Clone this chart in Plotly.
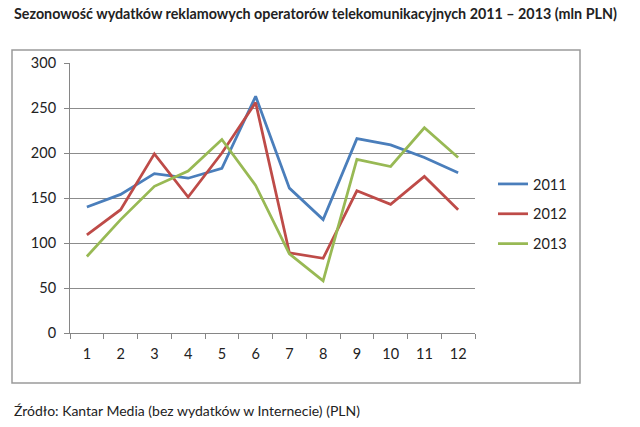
import plotly.graph_objects as go

months = ["1", "2", "3", "4", "5", "6", "7", "8", "9", "10", "11", "12"]
s2011 = [140, 154, 177, 172, 183, 263, 161, 126, 216, 209, 195, 178]
s2012 = [109, 137, 199, 151, 200, 256, 89, 83, 158, 143, 174, 137]
s2013 = [85, 126, 163, 180, 215, 164, 88, 58, 193, 185, 228, 195]
series_names = ["2011", "2012", "2013"]
colors = ["#4a7ebb", "#be4b48", "#98b954"]

FONT = "Lato"
fig = go.Figure()
for name, vals, col in zip(series_names, [s2011, s2012, s2013], colors):
    fig.add_trace(go.Scatter(x=months, y=vals, mode="lines", name=name,
                             legendgroup=name,
                             line=dict(color=col, width=2.75)))

L, R, T, B = 70, 165, 63, 94
W, H = 640, 427
pw, ph = W - L - R, H - T - B

def px(x):
    return (x - L) / pw

def py(y):
    return (H - B - y) / ph

fig.update_layout(
    width=W, height=H,
    margin=dict(l=L, r=R, t=T, b=B),
    paper_bgcolor="white", plot_bgcolor="white",
    font=dict(family=FONT, size=14, color="#222222"),
    showlegend=True,
    legend=dict(x=px(493), y=py(214), yanchor="middle", xanchor="left",
                font=dict(size=14.5, color="#222222"), tracegroupgap=8,
                bgcolor="rgba(0,0,0,0)"),
    xaxis=dict(type="category", range=[-0.5, 11.5], showgrid=False, showline=True,
               linecolor="#868686", linewidth=1, ticks="outside", tickson="boundaries",
               ticklen=5, tickcolor="#868686", ticklabelstandoff=8,
               tickfont=dict(size=14.5, color="#222222")),
    yaxis=dict(range=[0, 300], dtick=50, showgrid=True, gridcolor="#8c8c8c",
               gridwidth=1, showline=True, linecolor="#868686", ticks="outside",
               ticklen=5, tickcolor="#868686", zeroline=False, ticklabelstandoff=5,
               tickfont=dict(size=14.5, color="#222222")),
    shapes=[dict(type="rect", xref="paper", yref="paper",
                 x0=px(12), x1=px(580), y0=py(383), y1=py(50),
                 line=dict(color="#9a9a9a", width=1.5), layer="below")],
    annotations=[
        dict(text="<b>Sezonowość wydatków reklamowych operatorów telekomunikacyjnych 2011 – 2013 (mln PLN)</b>",
             xref="paper", yref="paper", x=px(12), y=py(13), xanchor="left", yanchor="middle",
             showarrow=False, font=dict(size=14.3, color="#222222", family=FONT)),
        dict(text="Źródło: Kantar Media (bez wydatków w Internecie) (PLN)",
             xref="paper", yref="paper", x=px(12), y=py(411), xanchor="left", yanchor="middle",
             showarrow=False, font=dict(size=14, color="#222222", family=FONT)),
    ],
)

fig.write_html("out.html")
